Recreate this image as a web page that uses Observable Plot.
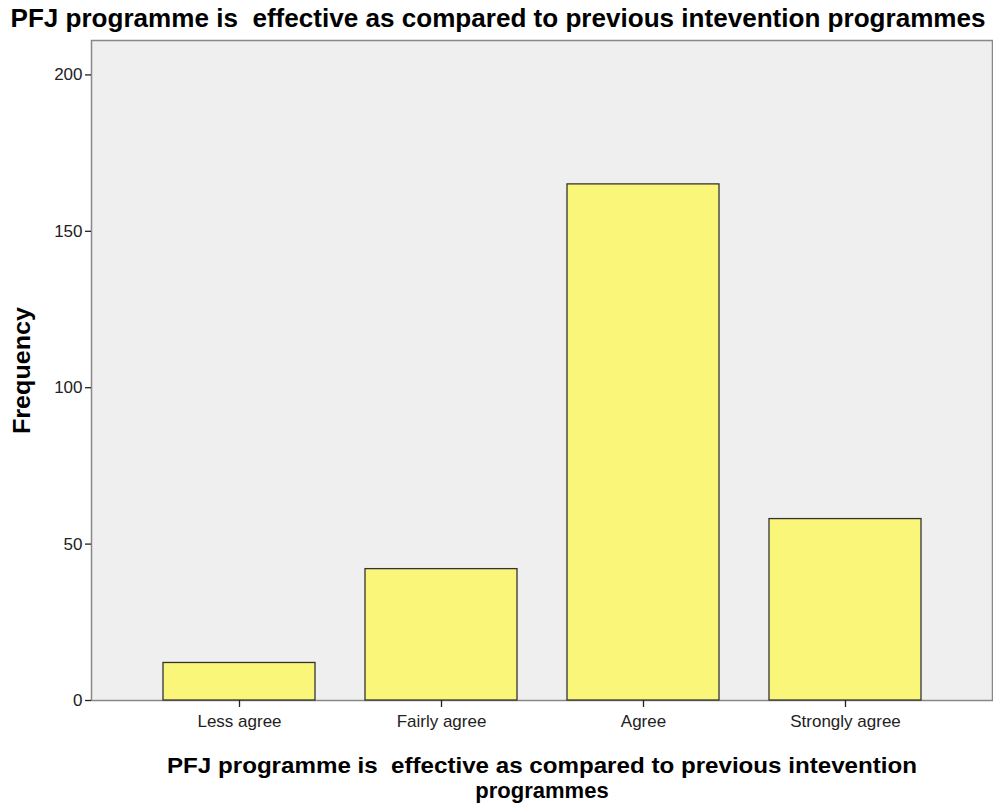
<!DOCTYPE html>
<html>
<head>
<meta charset="utf-8">
<script src="https://cdn.jsdelivr.net/npm/d3@7"></script>
<script src="https://cdn.jsdelivr.net/npm/@observablehq/plot@0.6"></script>
<style>
  body { margin: 0; background: #fff; }
  svg text { white-space: pre; }
</style>
</head>
<body>
<div id="chart"></div>
<script>
const categories = ["Less agree", "Fairly agree", "Agree", "Strongly agree"];
const frequencies = [12, 42, 165, 58];
const yTicks = [0, 50, 100, 150, 200];
const titleText = "PFJ programme is  effective as compared to previous intevention programmes";
const xTitleLine1 = "PFJ programme is  effective as compared to previous intevention";
const xTitleLine2 = "programmes";
const yTitle = "Frequency";

const data = categories.map((c, i) => ({category: c, value: frequencies[i]}));

const W = 993, H = 803;
const mL = 91, mR = 1, mT = 40, mB = 103;
const font = "'Liberation Sans', Arial, sans-serif";

const chart = Plot.plot({
  width: W,
  height: H,
  marginLeft: mL,
  marginRight: mR,
  marginTop: mT,
  marginBottom: mB,
  style: {fontFamily: font, background: "#ffffff", overflow: "visible"},
  x: {domain: categories, paddingInner: 0.25, paddingOuter: 0.35, label: null},
  y: {domain: [0, 211], label: null},
  marks: [
    Plot.frame({fill: "#efefef", stroke: "#888", strokeWidth: 1.5}),
    Plot.barY(data, {x: "category", y: "value", fill: "#faf67a", stroke: "#333", strokeWidth: 1.3}),
    Plot.axisY({ticks: yTicks, tickSize: 6, tickPadding: 3, fontSize: 17, stroke: "#222", strokeWidth: 1.3, fill: "#222", label: null, line: true}),
    Plot.axisX({tickSize: 7, tickPadding: 7, fontSize: 17, stroke: "#222", strokeWidth: 1.3, fill: "#222", label: null, line: true}),
    Plot.text([titleText], {frameAnchor: "top", dy: -22, dx: -44, fontSize: 25, fontWeight: "bold", fill: "#000", lineAnchor: "middle", className: "t-title"}),
    Plot.text([xTitleLine1], {frameAnchor: "bottom", dy: 65, fontSize: 22, fontWeight: "bold", fill: "#000", lineAnchor: "middle", className: "t-x1"}),
    Plot.text([xTitleLine2], {frameAnchor: "bottom", dy: 90, fontSize: 22, fontWeight: "bold", fill: "#000", lineAnchor: "middle"}),
    Plot.text([yTitle], {frameAnchor: "left", dx: -69, rotate: -90, textAnchor: "middle", fontSize: 23, fontWeight: "bold", fill: "#000", className: "t-y"})
  ]
});
document.getElementById("chart").appendChild(chart);
// stretch titles to the reference's measured widths
const fit = (cls, len) => {
  chart.querySelectorAll(`.${cls} text`).forEach(t => {
    t.setAttribute("textLength", len);
    t.setAttribute("lengthAdjust", "spacingAndGlyphs");
  });
};
fit("t-title", 975);
fit("t-x1", 750);
fit("t-y", 127);
</script>
</body>
</html>
